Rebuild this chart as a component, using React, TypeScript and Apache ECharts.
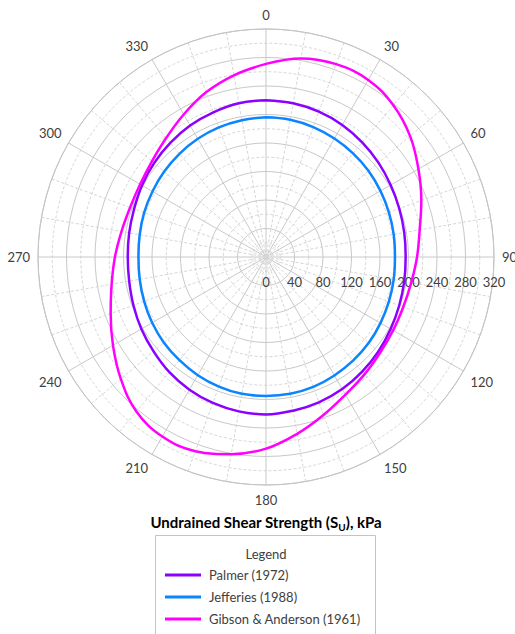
import React, { useEffect, useRef } from 'react';
import * as echarts from 'echarts';

// Angles (degrees, clockwise from north)
const angles = [
  0, 10, 20, 30, 40, 50, 60, 70, 80, 90, 100, 110, 120, 130, 140, 150, 160, 170,
  180, 190, 200, 210, 220, 230, 240, 250, 260, 270, 280, 290, 300, 310, 320, 330, 340, 350,
];

// Undrained shear strength (kPa)
const palmer = [
  220, 219, 217, 214, 210, 206, 202, 199, 197, 196, 197, 199, 202, 206, 210, 214, 217, 219,
  221, 220, 218, 215, 211, 206, 202, 198, 195, 194, 195, 197, 201, 205, 209, 213, 216, 219,
];
const jefferies = [
  196, 195.5, 194, 192, 190, 188, 185.5, 183.5, 182, 181, 182, 183.5, 185.5, 188, 190, 192, 194, 195,
  195, 195, 193.5, 191.5, 189, 187, 184.5, 182, 180, 179, 180, 182, 184, 186.5, 189, 191.5, 193.5, 195,
];
const gibson = [
  271, 283, 288, 287, 278, 264, 247, 232, 219, 212, 207, 205, 206, 209, 215, 223, 236, 252,
  269, 281, 290, 291, 283, 266, 248, 232, 220, 212, 206, 203, 204, 209, 218, 231, 246, 259,
];

const seriesNames = ['Palmer (1972)', 'Jefferies (1988)', 'Gibson & Anderson (1961)'];
const seriesColors = ['#8c00ff', '#0a84ff', '#ff00ff'];

const FONT = 'Lato';
const TEXT = '#404040';

function toPolar(values: number[]) {
  const pts = angles.map((a, i) => [values[i], a]);
  pts.push([values[0], 360]);
  return pts;
}

export default function App() {
  const ref = useRef<HTMLDivElement>(null);
  useEffect(() => {
    document.body.style.margin = '0';
    const chart = echarts.init(ref.current!, null, { renderer: 'svg' });
    const data = [palmer, jefferies, gibson];
    chart.setOption({
      animation: false,
      backgroundColor: '#ffffff',
      polar: { center: [266, 257], radius: 228 },
      angleAxis: {
        type: 'value',
        min: 90,
        max: 450,
        interval: 30,
        startAngle: 0,
        clockwise: true,
        axisLine: { show: true, lineStyle: { color: '#c4c4c4', width: 1 } },
        axisTick: { show: false },
        axisLabel: {
          margin: 8,
          color: TEXT,
          fontFamily: FONT,
          fontSize: 13,
          formatter: (v: number) => (v >= 450 ? '' : String(v % 360)),
        },
        splitLine: { show: true, lineStyle: { color: '#c8c8c8', width: 1 } },
        minorTick: { show: false, splitNumber: 3 },
        minorSplitLine: { show: true, lineStyle: { color: '#d6d6d6', width: 1, type: [3, 2] } },
      },
      radiusAxis: {
        type: 'value',
        min: 0,
        max: 320,
        interval: 40,
        axisLine: { show: false },
        axisTick: { show: false },
        axisLabel: {
          margin: -25,
          align: 'center',
          verticalAlign: 'middle',
          color: TEXT,
          fontFamily: FONT,
          fontSize: 13,
        },
        splitLine: { show: true, lineStyle: { color: '#c8c8c8', width: 1 } },
        minorTick: { show: false, splitNumber: 2 },
        minorSplitLine: { show: true, lineStyle: { color: '#d6d6d6', width: 1, type: [3, 2] } },
      },
      legend: {
        orient: 'vertical',
        left: 165,
        top: 568,
        padding: 0,
        itemWidth: 36,
        itemHeight: 14,
        itemGap: 8,
        icon: 'path://M0,0 H36 V3 H0 Z',
        textStyle: { color: TEXT, fontFamily: FONT, fontSize: 13, lineHeight: 14, padding: [0, 0, 0, 3] },
        data: seriesNames,
      },
      graphic: [
        {
          type: 'text',
          x: 266,
          y: 522,
          style: {
            text: '{b|Undrained Shear Strength (S}{s|U}{b|), kPa}',
            align: 'center',
            verticalAlign: 'middle',
            rich: {
              b: { fontFamily: FONT, fontSize: 15, fontWeight: 'bold', color: '#000000' },
              s: { fontFamily: FONT, fontSize: 10, fontWeight: 'bold', color: '#000000', padding: [9, 0, 0, 0] },
            },
          },
        },
        {
          type: 'rect',
          shape: { x: 155.5, y: 535.5, width: 220, height: 120 },
          style: { fill: 'none', stroke: '#c4c4c4', lineWidth: 1 },
        },
        {
          type: 'text',
          x: 266,
          y: 554,
          style: { text: 'Legend', align: 'center', verticalAlign: 'middle', fill: TEXT, fontFamily: FONT, fontSize: 13 },
        },
      ],
      series: data.map((vals, i) => ({
        name: seriesNames[i],
        type: 'line',
        coordinateSystem: 'polar',
        data: toPolar(vals),
        smooth: 0.4,
        showSymbol: false,
        symbol: 'none',
        lineStyle: { color: seriesColors[i], width: 2.5 },
        itemStyle: { color: seriesColors[i] },
        z: 3,
      })),
    });
    return () => chart.dispose();
  }, []);
  return <div ref={ref} style={{ width: 515, height: 634 }} />;
}
